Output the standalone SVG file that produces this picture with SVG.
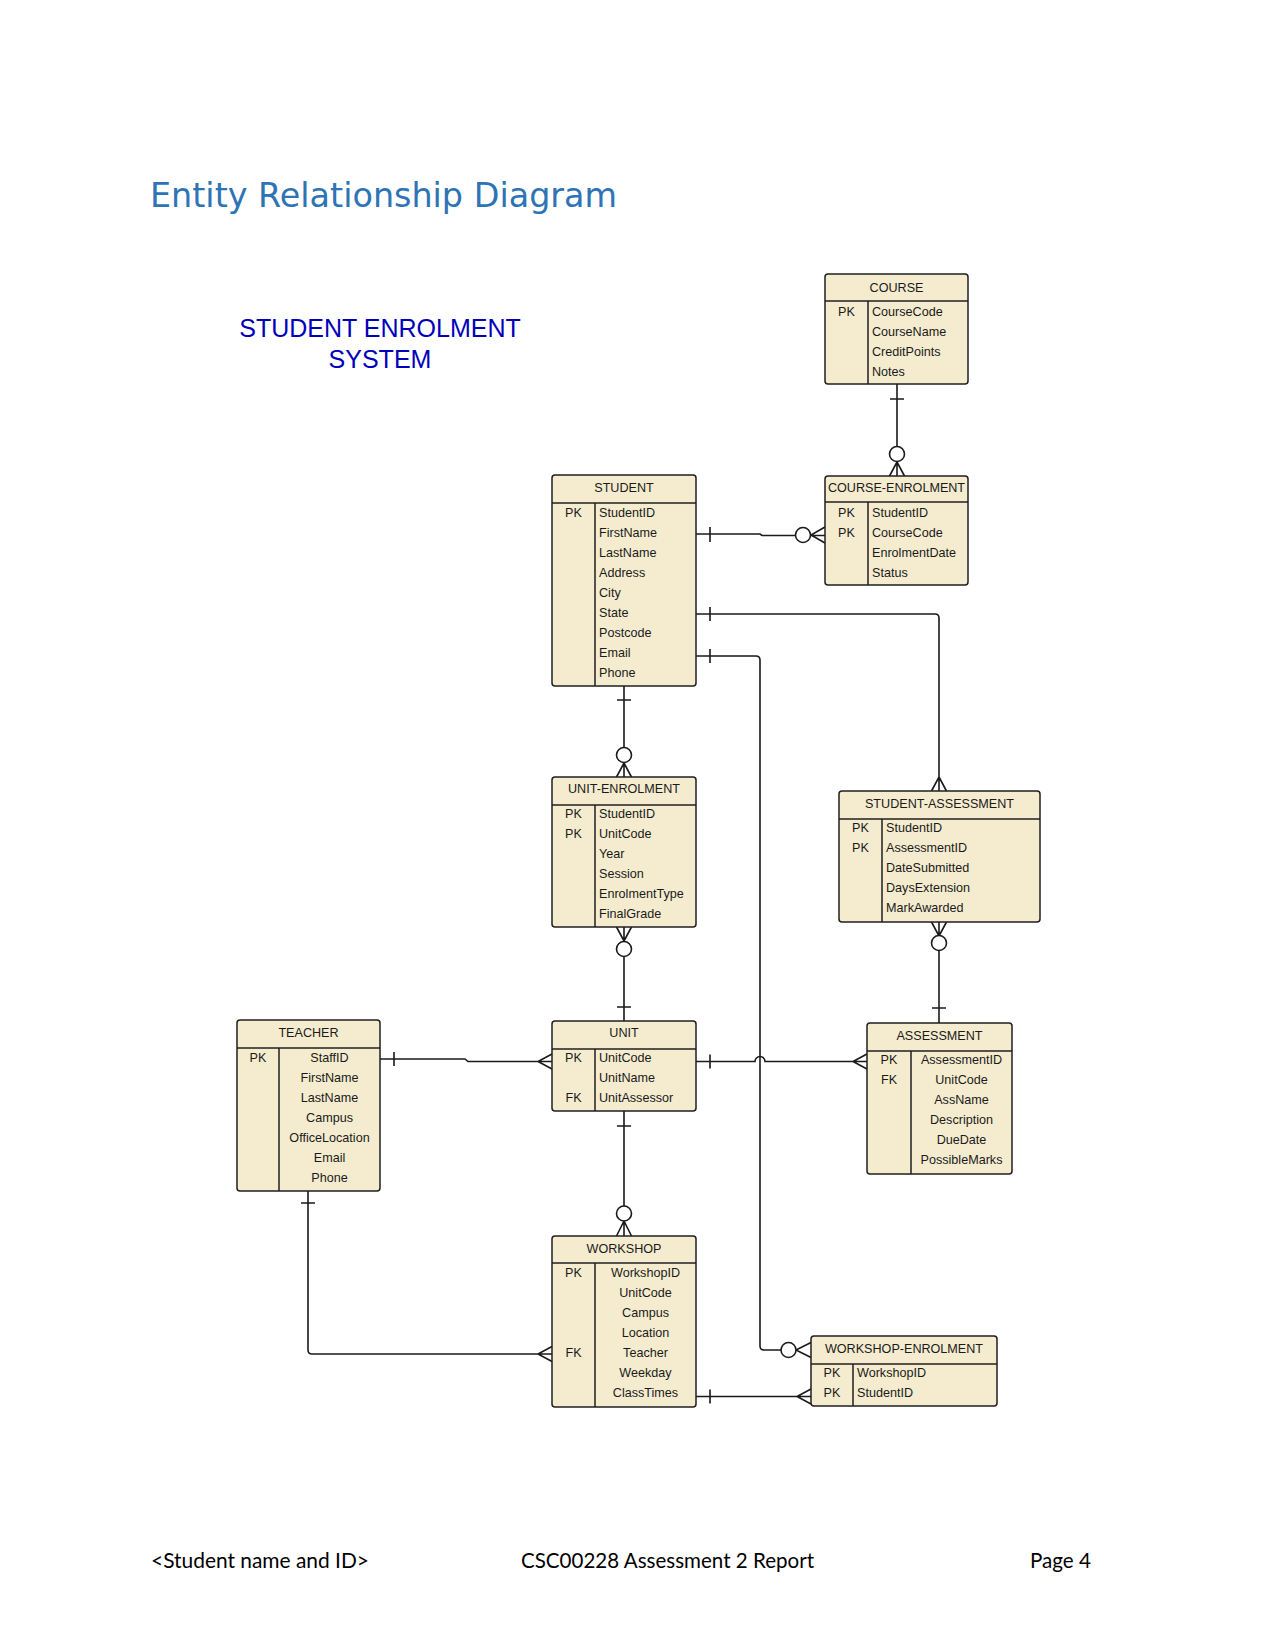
<svg xmlns="http://www.w3.org/2000/svg" width="1275" height="1650" viewBox="0 0 1275 1650">
<style>
.bg{fill:#ffffff}
.box{fill:#F5ECCF;stroke:#1f1f1f;stroke-width:1.5}
.dv{stroke:#1f1f1f;stroke-width:1.5;fill:none}
.t{font-family:"Liberation Sans",Arial,sans-serif;font-size:12.6px;fill:#1a1a1a}
.m{text-anchor:middle}
.ln{fill:none;stroke:#1a1a1a;stroke-width:1.6}
.o{fill:#ffffff;stroke:#1a1a1a;stroke-width:1.6}
.title{font-family:"DejaVu Sans",sans-serif;font-size:33.4px;fill:#2E74B5}
.sub{font-family:"Liberation Sans",Arial,sans-serif;font-size:25px;fill:#0000BB;text-anchor:middle}
.ft{font-family:Lato,"Liberation Sans",sans-serif;font-size:22px;fill:#000000}
</style>
<rect class="bg" x="0" y="0" width="1275" height="1650"/>
<text class="title" x="150" y="207">Entity Relationship Diagram</text>
<text class="sub" x="380" y="337">STUDENT ENROLMENT</text>
<text class="sub" x="380" y="368">SYSTEM</text>

<g id="connectors">
  <!-- COURSE - COURSE-ENROLMENT -->
  <path class="ln" d="M897,384 V476 M890,399 H904 M889.5,476 L897,462 L904.5,476"/>
  <circle class="o" cx="897" cy="454" r="7.5"/>
  <!-- STUDENT - COURSE-ENROLMENT -->
  <path class="ln" d="M696,534 H760 L762,535.5 H825 M710,527 V542 M825,527 L811,535 L825,543"/>
  <circle class="o" cx="803" cy="535" r="7.5"/>
  <!-- STUDENT - STUDENT-ASSESSMENT -->
  <path class="ln" d="M696,614 H935 Q939,614 939,618 V791 M710,607 V621 M931.5,791 L939,777 L946.5,791"/>
  <!-- STUDENT - WORKSHOP-ENROLMENT -->
  <path class="ln" d="M696,656 H756 Q760,656 760,660 V1346 Q760,1350 764,1350 H781 M710,649 V663 M811,1342.5 L796,1350 L811,1357.5"/>
  <circle class="o" cx="788.5" cy="1350" r="7.5"/>
  <!-- STUDENT - UNIT-ENROLMENT -->
  <path class="ln" d="M624,686 V777 M617,700 H631 M616.5,777 L624,763 L631.5,777"/>
  <circle class="o" cx="624" cy="755" r="7.5"/>
  <!-- UNIT-ENROLMENT - UNIT -->
  <path class="ln" d="M624,927 V1021 M616.5,927 L624,941 L631.5,927 M617,1007 H631"/>
  <circle class="o" cx="624" cy="949" r="7.5"/>
  <!-- STUDENT-ASSESSMENT - ASSESSMENT -->
  <path class="ln" d="M939,922 V1023 M931.5,922 L939,936 L946.5,922 M932,1008 H946"/>
  <circle class="o" cx="939" cy="943" r="7.5"/>
  <!-- TEACHER - UNIT -->
  <path class="ln" d="M380,1059 H465 L468,1061.5 H552 M394,1052 V1066 M552,1054 L538,1061.5 L552,1069"/>
  <!-- UNIT - ASSESSMENT -->
  <path class="ln" d="M696,1061.5 H755 A5,5 0 0 1 765,1061.5 H867 M710,1054.5 V1068.5 M867,1054 L853,1061.5 L867,1069"/>
  <!-- UNIT - WORKSHOP -->
  <path class="ln" d="M624,1111 V1236 M617,1126 H631 M616.5,1236 L624,1221 L631.5,1236"/>
  <circle class="o" cx="624" cy="1213.5" r="7.5"/>
  <!-- TEACHER - WORKSHOP -->
  <path class="ln" d="M308,1191 V1350 Q308,1354 312,1354 H552 M301,1203 H315 M552,1346.5 L538,1354 L552,1361.5"/>
  <!-- WORKSHOP - WORKSHOP-ENROLMENT -->
  <path class="ln" d="M696,1396.5 H811 M710,1389.5 V1403.5 M811,1389 L797,1396.5 L811,1404"/>
</g>

<g id="course">
  <rect class="box" x="825" y="274" width="143" height="110" rx="3"/>
  <path class="dv" d="M825,301 H968 M868,301 V384"/>
  <text class="t m" x="896.5" y="292">COURSE</text>
  <text class="t m" x="846.5" y="315.5">PK</text>
  <text class="t" x="872" y="315.5">CourseCode</text>
  <text class="t" x="872" y="335.5">CourseName</text>
  <text class="t" x="872" y="355.5">CreditPoints</text>
  <text class="t" x="872" y="375.5">Notes</text>
</g>

<g id="course-enrolment">
  <rect class="box" x="825" y="476" width="143" height="109" rx="3"/>
  <path class="dv" d="M825,502 H968 M868,502 V585"/>
  <text class="t m" x="896.5" y="491.5">COURSE-ENROLMENT</text>
  <text class="t m" x="846.5" y="516.5">PK</text>
  <text class="t m" x="846.5" y="536.5">PK</text>
  <text class="t" x="872" y="516.5">StudentID</text>
  <text class="t" x="872" y="536.5">CourseCode</text>
  <text class="t" x="872" y="556.5">EnrolmentDate</text>
  <text class="t" x="872" y="576.5">Status</text>
</g>

<g id="student">
  <rect class="box" x="552" y="475" width="144" height="211" rx="3"/>
  <path class="dv" d="M552,503 H696 M595,503 V686"/>
  <text class="t m" x="624" y="492">STUDENT</text>
  <text class="t m" x="573.5" y="517">PK</text>
  <text class="t" x="599" y="517">StudentID</text>
  <text class="t" x="599" y="537">FirstName</text>
  <text class="t" x="599" y="557">LastName</text>
  <text class="t" x="599" y="577">Address</text>
  <text class="t" x="599" y="597">City</text>
  <text class="t" x="599" y="617">State</text>
  <text class="t" x="599" y="637">Postcode</text>
  <text class="t" x="599" y="657">Email</text>
  <text class="t" x="599" y="677">Phone</text>
</g>

<g id="unit-enrolment">
  <rect class="box" x="552" y="777" width="144" height="150" rx="3"/>
  <path class="dv" d="M552,805 H696 M595,805 V927"/>
  <text class="t m" x="624" y="793">UNIT-ENROLMENT</text>
  <text class="t m" x="573.5" y="818">PK</text>
  <text class="t m" x="573.5" y="838">PK</text>
  <text class="t" x="599" y="818">StudentID</text>
  <text class="t" x="599" y="838">UnitCode</text>
  <text class="t" x="599" y="858">Year</text>
  <text class="t" x="599" y="878">Session</text>
  <text class="t" x="599" y="898">EnrolmentType</text>
  <text class="t" x="599" y="918">FinalGrade</text>
</g>

<g id="student-assessment">
  <rect class="box" x="839" y="791" width="201" height="131" rx="3"/>
  <path class="dv" d="M839,819 H1040 M882,819 V922"/>
  <text class="t m" x="939.5" y="808">STUDENT-ASSESSMENT</text>
  <text class="t m" x="860.5" y="832">PK</text>
  <text class="t m" x="860.5" y="852">PK</text>
  <text class="t" x="886" y="832">StudentID</text>
  <text class="t" x="886" y="852">AssessmentID</text>
  <text class="t" x="886" y="872">DateSubmitted</text>
  <text class="t" x="886" y="892">DaysExtension</text>
  <text class="t" x="886" y="912">MarkAwarded</text>
</g>

<g id="teacher">
  <rect class="box" x="237" y="1020" width="143" height="171" rx="3"/>
  <path class="dv" d="M237,1048 H380 M279,1048 V1191"/>
  <text class="t m" x="308.5" y="1037">TEACHER</text>
  <text class="t m" x="258" y="1062">PK</text>
  <text class="t m" x="329.5" y="1062">StaffID</text>
  <text class="t m" x="329.5" y="1082">FirstName</text>
  <text class="t m" x="329.5" y="1102">LastName</text>
  <text class="t m" x="329.5" y="1122">Campus</text>
  <text class="t m" x="329.5" y="1142">OfficeLocation</text>
  <text class="t m" x="329.5" y="1162">Email</text>
  <text class="t m" x="329.5" y="1182">Phone</text>
</g>

<g id="unit">
  <rect class="box" x="552" y="1021" width="144" height="90" rx="3"/>
  <path class="dv" d="M552,1049 H696 M595,1049 V1111"/>
  <text class="t m" x="624" y="1037">UNIT</text>
  <text class="t m" x="573.5" y="1062">PK</text>
  <text class="t m" x="573.5" y="1102">FK</text>
  <text class="t" x="599" y="1062">UnitCode</text>
  <text class="t" x="599" y="1082">UnitName</text>
  <text class="t" x="599" y="1102">UnitAssessor</text>
</g>

<g id="assessment">
  <rect class="box" x="867" y="1023" width="145" height="151" rx="3"/>
  <path class="dv" d="M867,1051 H1012 M911,1051 V1174"/>
  <text class="t m" x="939.5" y="1039.5">ASSESSMENT</text>
  <text class="t m" x="889" y="1064">PK</text>
  <text class="t m" x="889" y="1084">FK</text>
  <text class="t m" x="961.5" y="1064">AssessmentID</text>
  <text class="t m" x="961.5" y="1084">UnitCode</text>
  <text class="t m" x="961.5" y="1104">AssName</text>
  <text class="t m" x="961.5" y="1124">Description</text>
  <text class="t m" x="961.5" y="1144">DueDate</text>
  <text class="t m" x="961.5" y="1164">PossibleMarks</text>
</g>

<g id="workshop">
  <rect class="box" x="552" y="1236" width="144" height="171" rx="3"/>
  <path class="dv" d="M552,1263 H696 M595,1263 V1407"/>
  <text class="t m" x="624" y="1253">WORKSHOP</text>
  <text class="t m" x="573.5" y="1277">PK</text>
  <text class="t m" x="573.5" y="1357">FK</text>
  <text class="t m" x="645.5" y="1277">WorkshopID</text>
  <text class="t m" x="645.5" y="1297">UnitCode</text>
  <text class="t m" x="645.5" y="1317">Campus</text>
  <text class="t m" x="645.5" y="1337">Location</text>
  <text class="t m" x="645.5" y="1357">Teacher</text>
  <text class="t m" x="645.5" y="1377">Weekday</text>
  <text class="t m" x="645.5" y="1397">ClassTimes</text>
</g>

<g id="workshop-enrolment">
  <rect class="box" x="811" y="1336" width="186" height="70" rx="3"/>
  <path class="dv" d="M811,1364 H997 M853,1364 V1406"/>
  <text class="t m" x="904" y="1353">WORKSHOP-ENROLMENT</text>
  <text class="t m" x="832" y="1377">PK</text>
  <text class="t m" x="832" y="1397">PK</text>
  <text class="t" x="857" y="1377">WorkshopID</text>
  <text class="t" x="857" y="1397">StudentID</text>
</g>

<text class="ft" x="151" y="1568" textLength="218" lengthAdjust="spacingAndGlyphs">&lt;Student name and ID&gt;</text>
<text class="ft" x="521" y="1568" textLength="293" lengthAdjust="spacingAndGlyphs">CSC00228 Assessment 2 Report</text>
<text class="ft" x="1030" y="1568" textLength="61" lengthAdjust="spacingAndGlyphs">Page 4</text>
</svg>
